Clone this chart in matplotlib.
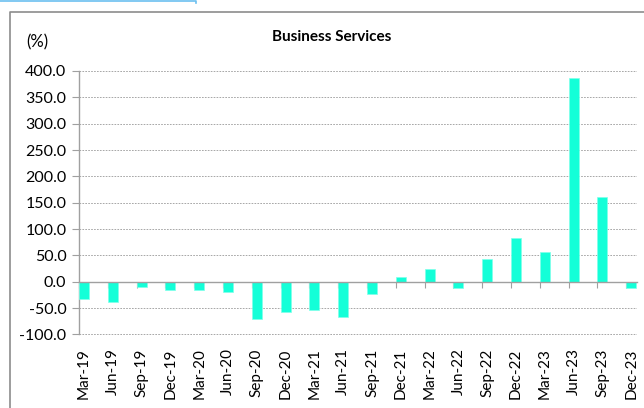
import matplotlib
matplotlib.use("Agg")
import matplotlib.pyplot as plt
from matplotlib.lines import Line2D
import numpy as np

plt.rcParams['font.family'] = ['Lato', 'DejaVu Sans']

# Quarterly growth, business services (%)
quarters = ['Mar-19', 'Jun-19', 'Sep-19', 'Dec-19', 'Mar-20', 'Jun-20', 'Sep-20',
            'Dec-20', 'Mar-21', 'Jun-21', 'Sep-21', 'Dec-21', 'Mar-22', 'Jun-22',
            'Sep-22', 'Dec-22', 'Mar-23', 'Jun-23', 'Sep-23', 'Dec-23']
growth = [-32, -39, -10, -15, -16.5, -19, -71, -57.5, -54, -67, -23, 9, 23.5,
          -12, 43, 83, 56.5, 386, 160.5, -11]
y_ticks = [-100, -50, 0, 50, 100, 150, 200, 250, 300, 350, 400]

W, H = 644, 408
fig = plt.figure(figsize=(W / 100, H / 100), dpi=100)

# plot area in pixels: left 79, right 637, top 71, bottom 334.5
ax = fig.add_axes([79 / W, 1 - 334.5 / H, (637 - 79) / W, (334.5 - 71) / H])

bar_w = 0.35
x = np.arange(len(quarters))
ax.bar(x + bar_w / 2, growth, width=bar_w, color='#14FFD8', edgecolor='#7FFFEA',
       linewidth=0.5, zorder=3)

ax.set_xlim(0, 19.375)
ax.set_ylim(-100, 400)
ax.set_yticks(y_ticks)
ax.set_yticklabels([f'{v:.1f}' for v in y_ticks], fontsize=11.5)
ax.tick_params(axis='y', direction='out', length=5, color='#a0a0a0', pad=4)
ax.yaxis.grid(True, linestyle=(0, (2, 1.5)), color='#999999', linewidth=0.6)
ax.set_axisbelow(True)

for s in ['top', 'right']:
    ax.spines[s].set_visible(False)
ax.spines['left'].set_color('#a0a0a0')
ax.spines['left'].set_linewidth(1.0)

# category axis sits on the zero line
ax.spines['bottom'].set_position(('data', 0))
ax.spines['bottom'].set_color('#a0a0a0')
ax.spines['bottom'].set_linewidth(1.0)
ax.spines['bottom'].set_zorder(4)
ax.set_xticks(x)
ax.set_xticklabels([])
ax.tick_params(axis='x', direction='out', length=4, color='#a0a0a0')

# quarter labels below the plot area
sec = ax.secondary_xaxis('bottom')
sec.spines['bottom'].set_visible(False)
sec.set_xticks(x + bar_w / 2)
sec.set_xticklabels(quarters, rotation=90, fontsize=11)
sec.tick_params(axis='x', length=0, pad=10)

fig.text(332 / W, 1 - 37 / H, 'Business Services', ha='center', va='center',
         fontsize=11, fontweight='bold')
fig.text(26 / W, 1 - 42 / H, '(%)', ha='left', va='center', fontsize=12)

# outer chart frame and the box edge above it
fig.add_artist(Line2D([10 / W, 10 / W, 1], [0, 1 - 11.5 / H, 1 - 11.5 / H],
                      transform=fig.transFigure, color='#8c8c8c', linewidth=1.2))
fig.add_artist(Line2D([0, 196 / W, 196 / W], [1 - 0.8 / H, 1 - 0.8 / H, 1 - 3 / H],
                      transform=fig.transFigure, color='#6cc0f0', linewidth=1.2))

fig.savefig('out.png', dpi=100)
